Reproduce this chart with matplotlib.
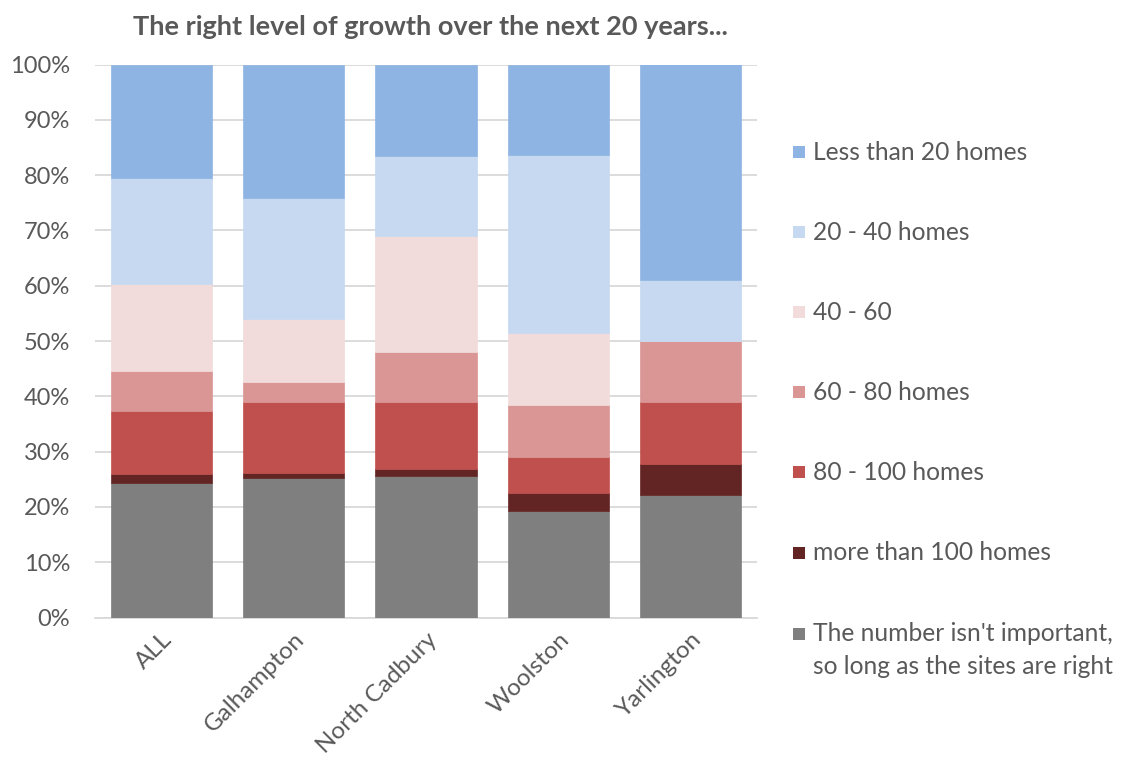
import matplotlib
matplotlib.use("Agg")
import matplotlib.pyplot as plt
from matplotlib.patches import Rectangle
import numpy as np

plt.rcParams['font.family'] = ['Lato', 'DejaVu Sans']

# Survey groups
categories = ["ALL", "Galhampton", "North Cadbury", "Woolston", "Yarlington"]

# Share of responses (%) per answer, bottom to top of each stack
not_important = [24.4, 25.3, 25.5, 19.3, 22.2]
more_than_100 = [1.5, 0.9, 1.4, 3.2, 5.6]
homes_80_100 = [11.4, 12.8, 12.1, 6.5, 11.1]
homes_60_80 = [7.2, 3.5, 9.0, 9.5, 11.1]
homes_40_60 = [15.8, 11.5, 21.0, 13.0, 0.0]
homes_20_40 = [19.2, 21.9, 14.4, 32.2, 11.1]
less_than_20 = [20.5, 24.1, 16.6, 16.3, 38.9]

series = [
    ("The number isn't important,\nso long as the sites are right", not_important, "#7F7F7F"),
    ("more than 100 homes", more_than_100, "#632523"),
    ("80 - 100 homes", homes_80_100, "#C0504D"),
    ("60 - 80 homes", homes_60_80, "#D99694"),
    ("40 - 60", homes_40_60, "#F2DCDB"),
    ("20 - 40 homes", homes_20_40, "#C6D9F1"),
    ("Less than 20 homes", less_than_20, "#8EB4E3"),
]

W, H = 1121, 764
fig = plt.figure(figsize=(W / 100, H / 100), dpi=100)
ax = fig.add_axes([95 / W, 1 - 617.5 / H, (757 - 95) / W, (617.5 - 64.5) / H])

x = np.arange(len(categories))
bottom = np.zeros(len(categories))
for label, vals, color in series:
    vals = np.array(vals, dtype=float)
    ax.bar(x, vals, width=0.765, bottom=bottom, color=color, edgecolor=color,
           linewidth=0.5, zorder=3)
    bottom += vals

ax.set_xlim(-0.5, len(categories) - 0.5)
ax.set_ylim(0, 100)
ax.set_yticks(np.arange(0, 101, 10))
ax.set_yticklabels([f"{v}%" for v in range(0, 101, 10)])
ax.yaxis.grid(True, color="#D9D9D9", linewidth=1.3, zorder=0)
ax.set_axisbelow(True)
for s in ["top", "right", "left"]:
    ax.spines[s].set_visible(False)
ax.spines["bottom"].set_color("#D9D9D9")
ax.spines["bottom"].set_linewidth(1.3)
ax.tick_params(axis="y", length=0, pad=18, labelsize=17, labelcolor="#595959")
ax.tick_params(axis="x", length=0, pad=8, labelsize=17.5, labelcolor="#595959")
ax.set_xticks(x)
ax.set_xticklabels(categories, rotation=45, ha="right", rotation_mode="anchor")

fig.text(430 / W, 1 - 27 / H, "The right level of growth over the next 20 years...",
         ha="center", va="center", fontsize=19.5, fontweight="bold", color="#595959")

# Legend, top entry first
legend_y = [152, 232, 312, 392, 472, 553, 634]
for (label, vals, color), ly in zip(reversed(series), legend_y):
    fig.patches.append(Rectangle((793 / W, 1 - (ly + 6) / H), 12 / W, 12 / H,
                                 transform=fig.transFigure, facecolor=color,
                                 edgecolor="none", figure=fig))
    if "\n" in label:
        fig.text(813 / W, 1 - (ly + 16) / H, label, ha="left", va="center",
                 fontsize=17.7, color="#595959", linespacing=1.5)
    else:
        fig.text(813 / W, 1 - ly / H, label, ha="left", va="center",
                 fontsize=17.7, color="#595959")

fig.savefig("out.png", dpi=100, facecolor="white")
